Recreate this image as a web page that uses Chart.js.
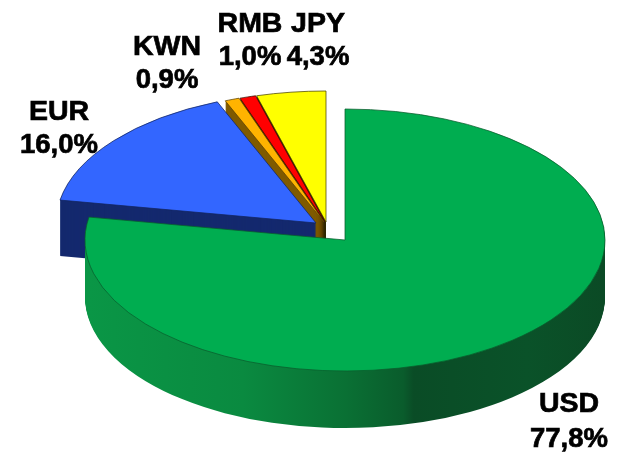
<!DOCTYPE html>
<html>
<head>
<meta charset="utf-8">
<style>
  html, body { margin: 0; padding: 0; background: #fff; }
  canvas { display: block; }
</style>
<script src="https://cdn.jsdelivr.net/npm/chart.js@4"></script>
</head>
<body>
<canvas id="pie" width="619" height="454"></canvas>
<script>
var currencies = ['USD', 'EUR', 'KWN', 'RMB', 'JPY'];
var shares = [77.8, 16.0, 0.9, 1.0, 4.3];

var topColors = ['#00ad50', '#3366ff', '#ffb300', '#ff0000', '#ffff00'];
var edgeColors = ['#0a5c2c', '#12245f', '#5c4200', '#3a1000', '#4a4400'];
var sideColors = [null, '#14296e', '#7f5a00', '#4a3000', '#2e2600'];

// how far every slice is pulled away from the centre, in px
var shiftX = [0, -29, -21, -20, -19];
var shiftY = [0, -17, -18, -18, -18];

var squash = 131 / 260; // pie is tilted, so y gets flattened
var thickness = 57;

// where the two line labels sit (centre x, first baseline, second baseline)
var labelX = [569, 59, 167, 250, 318];
var labelY1 = [412, 120, 55, 32, 32];
var labelY2 = [447, 153, 88, 65, 65];

function greenSide(ctx) {
  var g = ctx.createLinearGradient(88, 0, 605, 0);
  g.addColorStop(0, '#0a9646');
  g.addColorStop(0.3, '#0a8a40');
  g.addColorStop(0.5, '#0a7034');
  g.addColorStop(0.61, '#0a5c2c');
  g.addColorStop(0.63, '#0a4c26');
  g.addColorStop(0.85, '#0a5229');
  g.addColorStop(1, '#0b4a25');
  return g;
}

function drawSlice(ctx, arc, i, dy, fill, border) {
  var saved = arc.options;
  arc.options = Object.assign({}, saved, {
    backgroundColor: fill,
    borderColor: border || fill,
    borderWidth: border ? 1 : 0
  });
  ctx.save();
  ctx.translate(arc.x + shiftX[i], arc.y + shiftY[i] + dy);
  ctx.scale(1, squash);
  ctx.translate(-arc.x, -arc.y);
  arc.draw(ctx);
  ctx.restore();
  arc.options = saved;
}

function boldText(ctx, text, x, y) {
  ctx.fillText(text, x, y);
  ctx.strokeText(text, x, y);
}

var pie3d = {
  id: 'pie3d',
  beforeDatasetDraw: function (chart, args) {
    var ctx = chart.ctx;
    var arcs = args.meta.data;
    var i, d;

    // pulled out slices first, the big one sits in front of them
    for (i = arcs.length - 1; i >= 1; i--) {
      for (d = thickness - 1; d > 0; d--) {
        drawSlice(ctx, arcs[i], i, d, sideColors[i]);
      }
    }
    for (i = arcs.length - 1; i >= 1; i--) {
      drawSlice(ctx, arcs[i], i, 0, topColors[i], edgeColors[i]);
    }

    var side = greenSide(ctx);
    for (d = thickness; d > 0; d--) {
      drawSlice(ctx, arcs[0], 0, d, side);
    }
    drawSlice(ctx, arcs[0], 0, 0, topColors[0], edgeColors[0]);
    return false;
  },
  afterDraw: function (chart) {
    var ctx = chart.ctx;
    ctx.save();
    ctx.fillStyle = '#000';
    ctx.strokeStyle = '#000';
    ctx.lineWidth = 0.7;
    ctx.textAlign = 'center';
    for (var i = 0; i < currencies.length; i++) {
      ctx.font = 'bold 28.5px "Liberation Sans", Arial, sans-serif';
      boldText(ctx, currencies[i], labelX[i], labelY1[i]);
      ctx.font = 'bold 27.5px "Liberation Sans", Arial, sans-serif';
      boldText(ctx, shares[i].toFixed(1).replace('.', ',') + '%', labelX[i], labelY2[i]);
    }
    ctx.restore();
  }
};

new Chart(document.getElementById('pie').getContext('2d'), {
  type: 'pie',
  data: {
    labels: currencies,
    datasets: [{
      data: shares,
      backgroundColor: topColors,
      borderColor: edgeColors,
      radius: 260
    }]
  },
  options: {
    responsive: false,
    animation: false,
    layout: { padding: { left: 71, top: 26 } }, // moves centre to 345,240
    plugins: {
      legend: { display: false },
      tooltip: { enabled: false }
    }
  },
  plugins: [pie3d]
});
</script>
</body>
</html>
